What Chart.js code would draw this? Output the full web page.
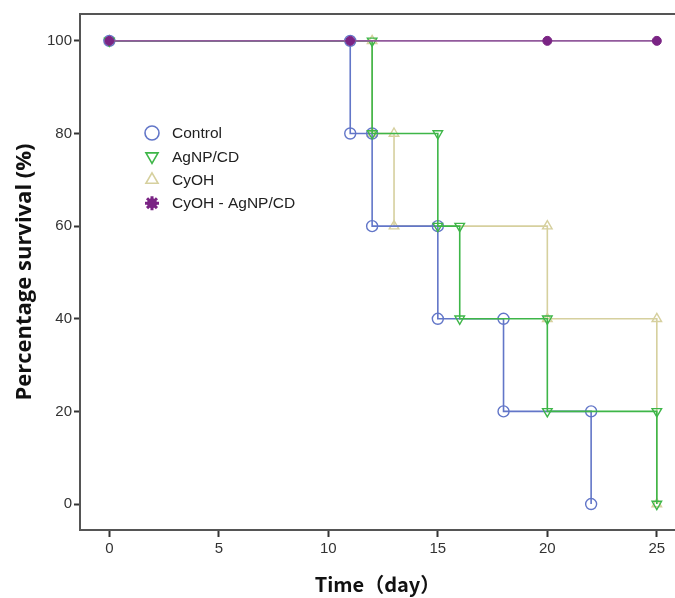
<!DOCTYPE html>
<html>
<head>
<meta charset="utf-8">
<script src="https://cdn.jsdelivr.net/npm/chart.js@4.4.1/dist/chart.umd.min.js"></script>
<style>
  html, body { margin: 0; padding: 0; background: #fff; }
  #wrap { width: 675px; height: 598px; }
</style>
</head>
<body>
<div id="wrap"><canvas id="myChart" width="675" height="598"></canvas></div>
<script>
// Kaplan-Meier steps: day of each event and survival (%) after it
const controlDays = [0, 11, 12, 15, 18, 22];
const controlSurv = [100, 80, 60, 40, 20, 0];
const agnpDays = [0, 12, 15, 16, 20, 25];
const agnpSurv = [100, 80, 60, 40, 20, 0];
const cyohDays = [0, 12, 13, 20, 25];
const cyohSurv = [100, 80, 60, 40, 0];
const comboDays = [0, 11, 20, 25];
const comboSurv = [100, 100, 100, 100];

const seriesNames = ['Control', 'AgNP/CD', 'CyOH', 'CyOH - AgNP/CD'];
const xTicks = [0, 5, 10, 15, 20, 25];
const yTicks = [0, 20, 40, 60, 80, 100];

// corner points of the step curve (top and bottom of each drop)
function steps(days, surv) {
  const pts = [{x: days[0], y: surv[0]}];
  for (let i = 1; i < days.length; i++) {
    if (surv[i] !== surv[i - 1]) pts.push({x: days[i], y: surv[i - 1]});
    pts.push({x: days[i], y: surv[i]});
  }
  return pts;
}

const blue = 'rgb(98,118,200)';
const green = 'rgb(62,182,72)';
const khaki = 'rgb(214,208,158)';
const purple = 'rgb(122,36,132)';
const purpleLine = 'rgb(146,90,156)';

const legendItems = [
  {style: 'circle', rot: 0, color: blue},
  {style: 'triangle', rot: 180, color: green},
  {style: 'triangle', rot: 0, color: khaki},
  {style: 'gear', rot: 0, color: purple},
];

const framePlugin = {
  id: 'frame',
  beforeDatasetsDraw(chart) {
    const {ctx, chartArea: a} = chart;
    ctx.save();
    ctx.strokeStyle = '#555';
    ctx.lineWidth = 2;
    ctx.beginPath();
    ctx.moveTo(chart.width, a.top);
    ctx.lineTo(a.left, a.top);
    ctx.lineTo(a.left, a.bottom);
    ctx.lineTo(chart.width, a.bottom);
    ctx.stroke();
    ctx.restore();
  },
  afterDraw(chart) {
    const ctx = chart.ctx;
    ctx.save();
    ctx.font = '15.5px "Liberation Sans", Arial, sans-serif';
    ctx.textBaseline = 'middle';
    ctx.textAlign = 'left';
    legendItems.forEach((it, i) => {
      const x = 152, y = 133 + i * 23.4;
      ctx.strokeStyle = it.color;
      if (it.style === 'gear') {
        ctx.fillStyle = it.color;
        ctx.lineWidth = 3;
        Chart.helpers.drawPoint(ctx, {pointStyle: 'star', radius: 7, rotation: 0, borderWidth: 3}, x, y);
        ctx.lineWidth = 1;
        Chart.helpers.drawPoint(ctx, {pointStyle: 'circle', radius: 4.5, rotation: 0, borderWidth: 1}, x, y);
      } else {
        ctx.fillStyle = 'rgba(0,0,0,0)';
        ctx.lineWidth = 1.6;
        Chart.helpers.drawPoint(ctx, {pointStyle: it.style, radius: 7, rotation: it.rot, borderWidth: 1.6}, x, y);
      }
      ctx.fillStyle = '#222';
      ctx.fillText(seriesNames[i], 172, y + 1);
    });
    ctx.restore();
  }
};

function km(label, days, surv, color, style, rot, order) {
  return {
    label: label,
    data: steps(days, surv),
    borderColor: color,
    backgroundColor: 'rgba(0,0,0,0)',
    borderWidth: 1.6,
    pointStyle: style,
    pointRotation: rot,
    pointRadius: 5.5,
    pointBorderWidth: 1.4,
    pointBorderColor: color,
    pointBackgroundColor: 'rgba(0,0,0,0)',
    tension: 0,
    order: order,
  };
}

const ctx = document.getElementById('myChart');
const myChart = new Chart(ctx, {
  type: 'line',
  data: {
    datasets: [
      {
        label: seriesNames[3],
        data: steps(comboDays, comboSurv),
        borderColor: purpleLine,
        borderWidth: 1.8,
        pointStyle: 'circle',
        pointRadius: 4.5,
        pointBorderWidth: 1,
        pointBorderColor: purple,
        pointBackgroundColor: purple,
        tension: 0,
        order: 0,
      },
      km(seriesNames[1], agnpDays, agnpSurv, green, 'triangle', 180, 1),
      km(seriesNames[0], controlDays, controlSurv, blue, 'circle', 0, 2),
      km(seriesNames[2], cyohDays, cyohSurv, khaki, 'triangle', 0, 3),
    ],
  },
  options: {
    responsive: false,
    animation: false,
    layout: { autoPadding: false, padding: { top: 14, left: 0, right: 0, bottom: 0 } },
    plugins: {
      legend: { display: false },
      tooltip: { enabled: false },
    },
    scales: {
      x: {
        type: 'linear',
        min: -1.34,
        max: 25.83,
        afterFit: (s) => { s.height = 68; s.paddingLeft = 0; s.paddingRight = 0; },
        afterBuildTicks: (s) => { s.ticks = xTicks.map(v => ({value: v})); },
        grid: { display: true, drawOnChartArea: false, drawTicks: true, tickLength: 7, color: '#333', tickWidth: 2 },
        border: { display: false },
        ticks: { color: '#333', padding: 3, font: { family: '"Liberation Sans", Arial, sans-serif', size: 15 } },
        title: {
          display: true,
          text: 'Time（day）',
          color: '#111',
          padding: { top: 0, bottom: 2 },
          font: { family: '"Noto Sans CJK SC", "Noto Sans", sans-serif', size: 20, weight: 'bold' },
        },
      },
      y: {
        type: 'linear',
        min: -5.6,
        max: 105.8,
        afterFit: (s) => { s.width = 80; s.paddingTop = 0; s.paddingBottom = 0; },
        afterBuildTicks: (s) => { s.ticks = yTicks.map(v => ({value: v})); },
        grid: { display: true, drawOnChartArea: false, drawTicks: true, tickLength: 6, color: '#333', tickWidth: 2 },
        border: { display: false },
        ticks: { color: '#333', padding: 2, font: { family: '"Liberation Sans", Arial, sans-serif', size: 15 } },
        title: {
          display: true,
          text: 'Percentage survival (%)',
          color: '#111',
          padding: { top: 12, bottom: 0 },
          font: { family: '"Open Sans", "Noto Sans", sans-serif', size: 22, weight: 'bold' },
        },
      },
    },
  },
  plugins: [framePlugin],
});
</script>
</body>
</html>
